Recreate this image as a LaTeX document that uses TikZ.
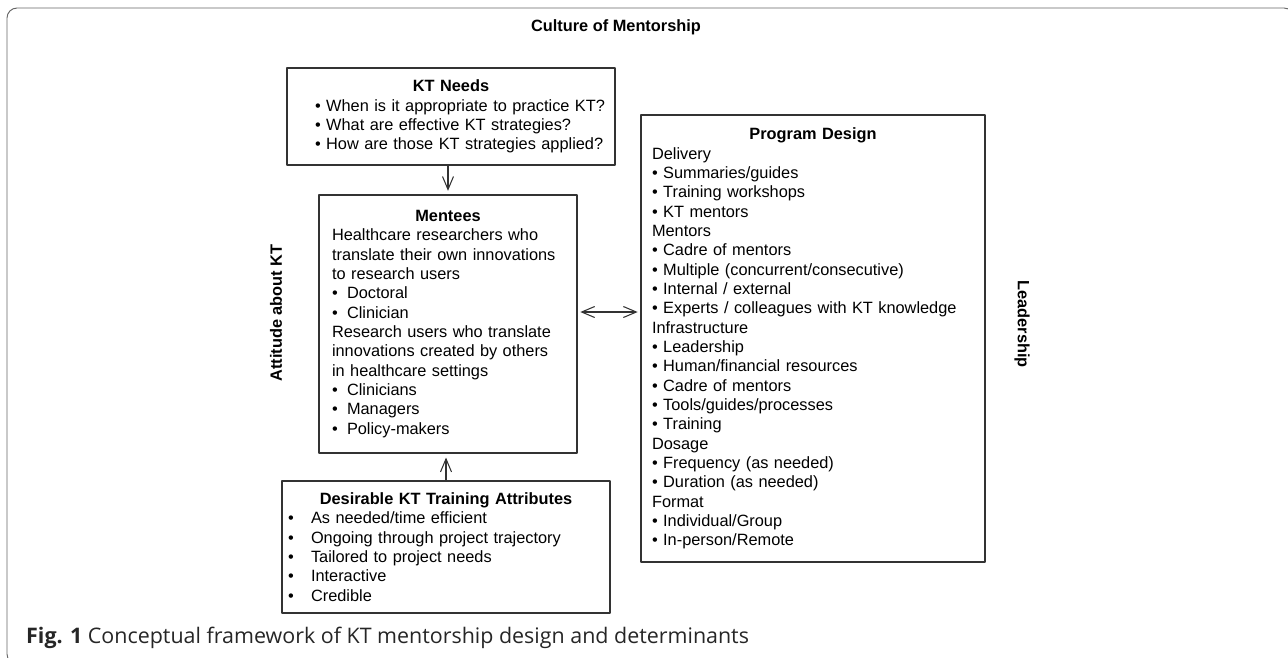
\documentclass[tikz,border=0pt]{standalone}
\usepackage{fontspec}
\setmainfont{Liberation Sans}
\newfontfamily\capfont{Open Sans}
\usetikzlibrary{arrows.meta}
\newcommand{\bul}{\textbullet\ }
\newcommand{\ibul}{\hspace*{0.4cm}\textbullet\ }
\newcommand{\tbul}[1]{\makebox[#1][l]{\textbullet}}
\newcommand{\boxhead}[1]{{\centering\bfseries #1\par}}

\begin{document}
\begin{tikzpicture}[x=0.02cm,y=-0.02cm,line join=round,font=\fontsize{9.3}{11}\selectfont,
	>={Straight Barb[length=2.6mm,width=2.2mm]},
	box/.style={draw=black!80,line width=0.8pt,inner xsep=0pt,inner ysep=0pt,align=left},
	conn/.style={draw=black!80,line width=0.6pt}]
	\useasboundingbox (0,0) rectangle (1288,657);
	\draw[black!60,line width=0.55pt,rounded corners=0.2cm] (7,8) rectangle (1294,664);
	\node[font=\fontsize{9.3}{11}\selectfont\bfseries] (culture) at (616,27) {Culture of Mentorship};
	\node[rotate=90,font=\fontsize{9.3}{11}\selectfont\bfseries] (attitude) at (276,313) {Attitude about KT};
	\node[rotate=-90,font=\fontsize{9.3}{11}\selectfont\bfseries] (leader) at (1022,324) {Leadership};
	% boxes
	\node[box,minimum width=6.56cm,minimum height=1.94cm,text width=6.24cm] (needs) at (451,116.5) {%
		\boxhead{KT Needs}
		\ibul When is it appropriate to practice KT?\\
		\ibul What are effective KT strategies?\\
		\ibul How are those KT strategies applied?};
	\node[box,minimum width=5.16cm,minimum height=5.16cm,text width=4.64cm] (mentees) at (448,324) {%
		\boxhead{Mentees}
		Healthcare researchers who\\
		translate their own innovations\\
		to research users\\
		\tbul{0.3cm}Doctoral\\
		\tbul{0.3cm}Clinician\\
		Research users who translate\\
		innovations created by others\\
		in healthcare settings\\
		\tbul{0.3cm}Clinicians\\
		\tbul{0.3cm}Managers\\
		\tbul{0.3cm}Policy-makers};
	\node[box,minimum width=6.56cm,minimum height=2.64cm,text width=6.32cm] (attrib) at (446,547) {%
		\boxhead{Desirable KT Training Attributes}
		\tbul{0.46cm}As needed/time efficient\\
		\tbul{0.46cm}Ongoing through project trajectory\\
		\tbul{0.46cm}Tailored to project needs\\
		\tbul{0.46cm}Interactive\\
		\tbul{0.46cm}Credible};
	\node[box,minimum width=6.88cm,minimum height=8.94cm,text width=6.44cm] (design) at (813,338.5) {%
		\boxhead{Program Design}
		Delivery\\
		\bul Summaries/guides\\
		\bul Training workshops\\
		\bul KT mentors\\
		Mentors\\
		\bul Cadre of mentors\\
		\bul Multiple (concurrent/consecutive)\\
		\bul Internal / external\\
		\bul Experts / colleagues with KT knowledge\\
		Infrastructure\\
		\bul Leadership\\
		\bul Human/financial resources\\
		\bul Cadre of mentors\\
		\bul Tools/guides/processes\\
		\bul Training\\
		Dosage\\
		\bul Frequency (as needed)\\
		\bul Duration (as needed)\\
		Format\\
		\bul Individual/Group\\
		\bul In-person/Remote};
	% connectors
	\draw[conn,->,shorten >=2pt] (mentees.north |- needs.south) -- (mentees.north);
	\draw[conn,->,shorten >=2.2pt] (attrib.north) -- (attrib.north |- mentees.south);
	\draw[conn,<->,shorten <=1.5pt,shorten >=1.5pt] ([yshift=0.24cm]mentees.east) -- ([yshift=0.24cm]mentees.east -| design.west);
	\node[anchor=base west,text=black!85,font=\capfont\fontsize{12.2}{14}\selectfont] (caption) at (20,643) {\textbf{Fig. 1} Conceptual framework of KT mentorship design and determinants};
\end{tikzpicture}
\end{document}
